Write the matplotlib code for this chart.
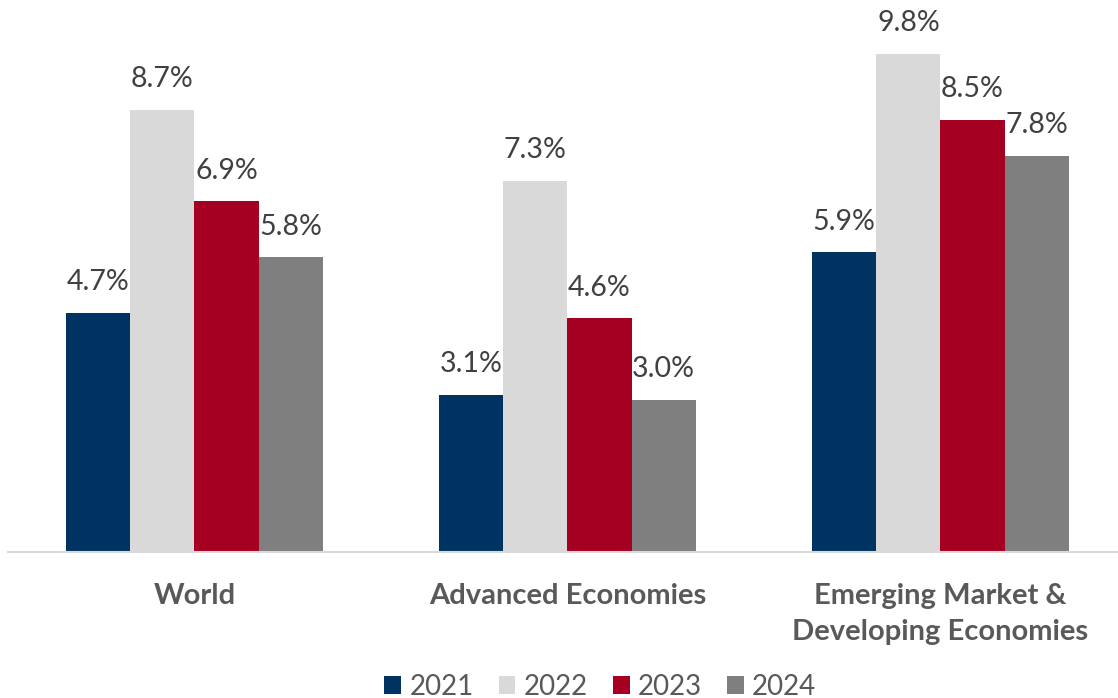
import numpy as np
import matplotlib.pyplot as plt

categories = ["World", "Advanced Economies", "Emerging Market &\nDeveloping Economies"]
years = ["2021", "2022", "2023", "2024"]
inflation_2021 = [4.7, 3.1, 5.9]
inflation_2022 = [8.7, 7.3, 9.8]
inflation_2023 = [6.9, 4.6, 8.5]
inflation_2024 = [5.8, 3.0, 7.8]
colors = ["#003361", "#D9D9D9", "#A50021", "#7F7F7F"]

plt.rcParams['font.family'] = ['Lato', 'DejaVu Sans']

fig = plt.figure(figsize=(11.18, 6.98), dpi=100)
ax = fig.add_axes([8/1118, 146/698, 1110/1118, 508/698])

series = [inflation_2021, inflation_2022, inflation_2023, inflation_2024]
x = np.arange(len(categories))
width = 0.172
for i, (vals, col, yr) in enumerate(zip(series, colors, years)):
    pos = x + (i - 1.5) * width
    bars = ax.bar(pos, vals, width, color=col, label=yr)
    for b, v in zip(bars, vals):
        ax.text(b.get_x() + b.get_width() / 2, v + 0.35, f"{v:.1f}%",
                ha="center", va="bottom", fontsize=20.5, color="#404040")

ax.set_xlim(-0.5, 2.476)
ax.set_ylim(0, 10)
ax.set_xticks(x)
ax.set_xticklabels(categories, fontsize=21, fontweight="bold", color="#595959",
                   linespacing=1.5)
ax.tick_params(axis="x", length=0, pad=22)
ax.set_yticks([])
for s in ["top", "right", "left"]:
    ax.spines[s].set_visible(False)
ax.spines["bottom"].set_color("#D9D9D9")
ax.spines["bottom"].set_linewidth(1.5)

leg = fig.legend(loc="lower center", bbox_to_anchor=(0.537, -0.038), ncol=4, frameon=False,
                 fontsize=20, handlelength=0.6, handleheight=0.6, handletextpad=0.3,
                 columnspacing=0.9)
for t in leg.get_texts():
    t.set_color("#595959")

fig.savefig("out.png", dpi=100)
